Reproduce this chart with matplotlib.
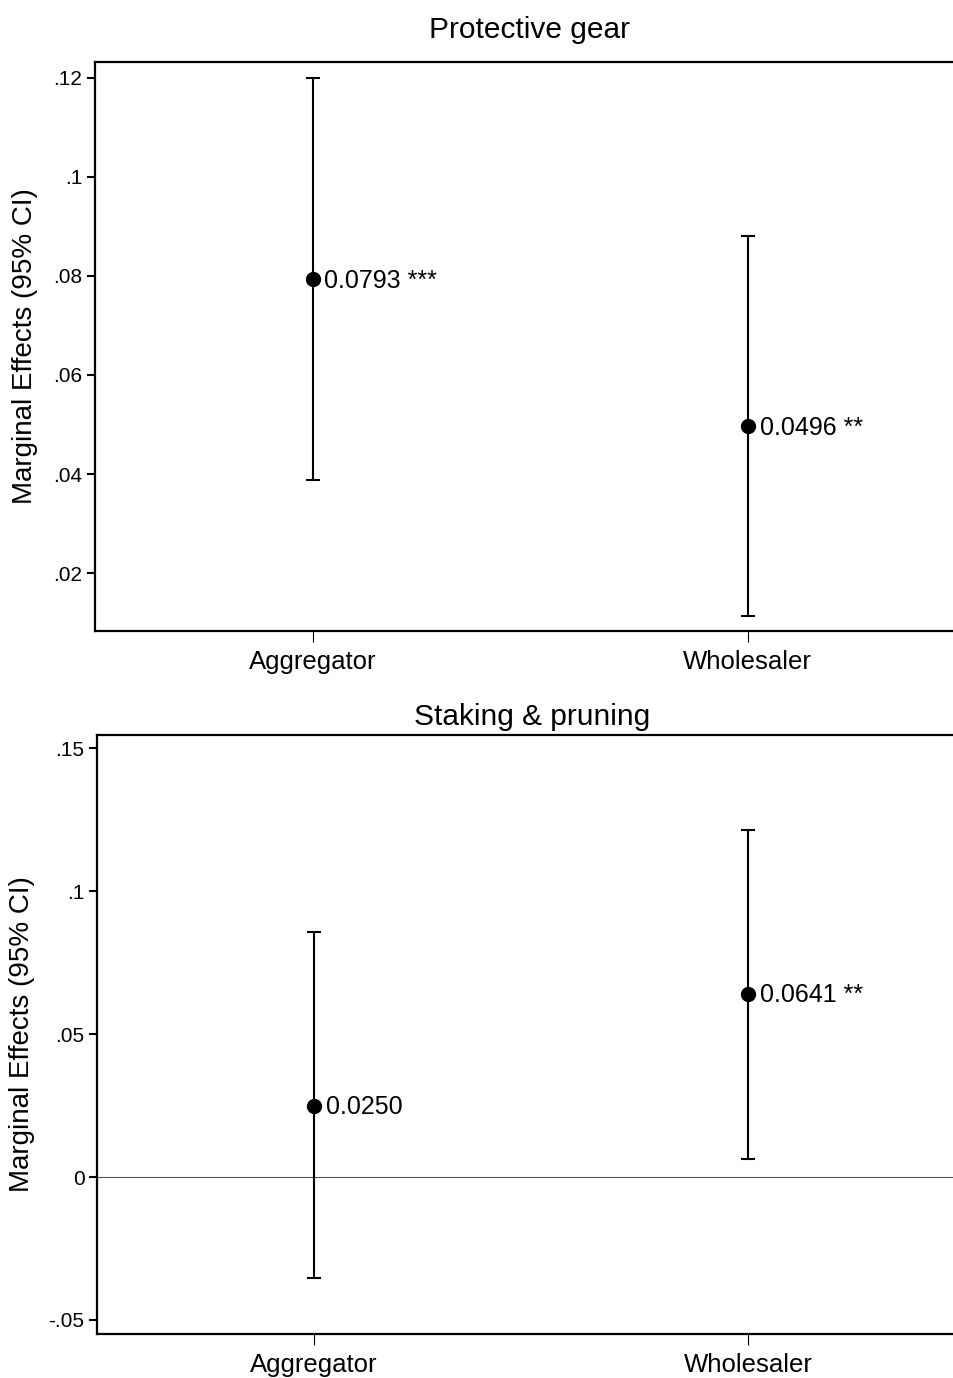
import matplotlib
matplotlib.use("Agg")
import matplotlib.pyplot as plt

plt.rcParams['font.family'] = ['Liberation Sans', 'DejaVu Sans']

categories = ["Aggregator", "Wholesaler"]

top_title = "Protective gear"
top_est = [0.0793, 0.0496]
top_lo = [0.0388, 0.0113]
top_hi = [0.1199, 0.0881]
top_lab = ["0.0793 ***", "0.0496 **"]
top_ticks = [0.02, 0.04, 0.06, 0.08, 0.10, 0.12]
top_ticklabels = [".02", ".04", ".06", ".08", ".1", ".12"]

bot_title = "Staking & pruning"
bot_est = [0.0250, 0.0641]
bot_lo = [-0.0354, 0.0063]
bot_hi = [0.0856, 0.1214]
bot_lab = ["0.0250", "0.0641 **"]
bot_ticks = [-0.05, 0.0, 0.05, 0.10, 0.15]
bot_ticklabels = ["-.05", "0", ".05", ".1", ".15"]

W, H = 954, 1378
fig = plt.figure(figsize=(W / 100, H / 100), dpi=100)

def px_axes(l, t, r, b):
    return fig.add_axes([l / W, 1 - b / H, (r - l) / W, (b - t) / H])

ax1 = px_axes(95, 62, 954, 631)
ax2 = px_axes(97, 735, 954, 1334)

def draw(ax, title, est, lo, hi, labs, ticks, ticklabels, ylim, title_pad, title_x, zero=False):
    xs = [1, 2]
    if zero:
        ax.axhline(0, color="#555555", lw=0.8, zorder=1)
    yerr = [[e - l for e, l in zip(est, lo)], [h - e for e, h in zip(est, hi)]]
    ax.errorbar(xs, est, yerr=yerr, fmt="o", color="black", ms=10,
                elinewidth=1.5, capsize=5, capthick=1.5, zorder=3)
    for x, e, t in zip(xs, est, labs):
        ax.annotate(t, (x, e), xytext=(8.5, -1), textcoords="offset points",
                    va="center", ha="left", fontsize=18)
    ax.set_xlim(0.5, 2.474)
    ax.set_ylim(*ylim)
    ax.set_xticks(xs)
    ax.set_xticklabels(categories, fontsize=18.5)
    ax.set_yticks(ticks)
    ax.set_yticklabels(ticklabels, fontsize=15)
    ax.tick_params(axis="y", length=6, width=1.5, pad=3)
    ax.tick_params(axis="x", length=8, width=0.8, pad=6)
    ax.set_title(title, fontsize=21.5, pad=title_pad, x=title_x)
    ax.set_ylabel("Marginal Effects (95% CI)", fontsize=20)
    for s in ["left", "bottom", "top"]:
        ax.spines[s].set_linewidth(1.6)
    ax.spines["right"].set_visible(False)

draw(ax1, top_title, top_est, top_lo, top_hi, top_lab, top_ticks, top_ticklabels,
     (0.0083, 0.1232), 17, (530 - 95) / (954 - 95))
draw(ax2, bot_title, bot_est, bot_lo, bot_hi, bot_lab, bot_ticks, bot_ticklabels,
     (-0.0549, 0.1546), 7, (532 - 97) / (954 - 97), zero=True)
ax1.yaxis.set_label_coords((38 - 95) / (954 - 95), 0.5)
ax2.yaxis.set_label_coords((35 - 97) / (954 - 97), 0.5)

fig.savefig("out.png", dpi=100)
